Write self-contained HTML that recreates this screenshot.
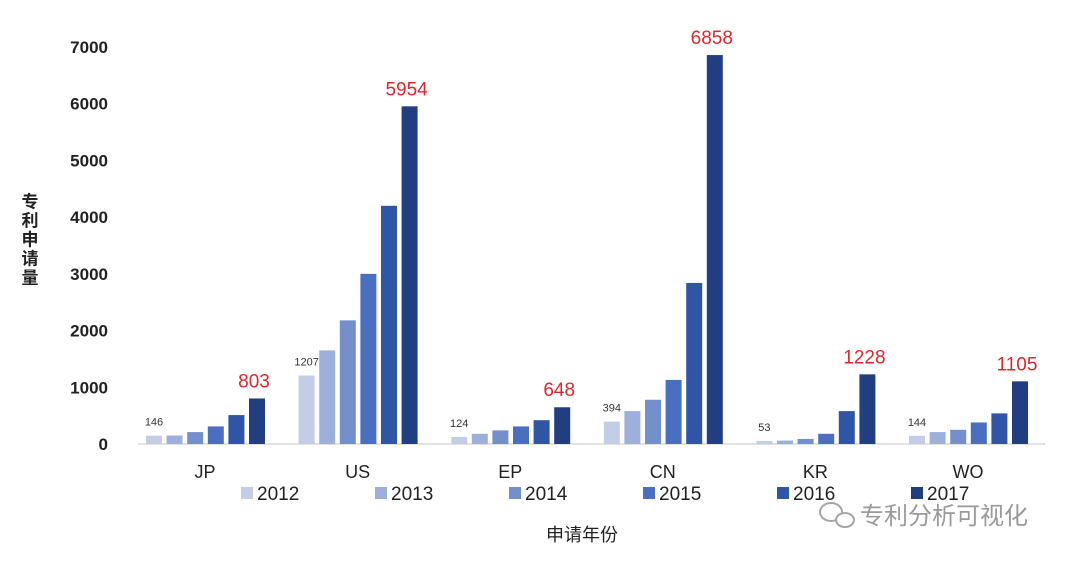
<!DOCTYPE html>
<html><head><meta charset="utf-8"><style>
body{margin:0;background:#fff;}
svg text{font-family:"Liberation Sans","Noto Sans CJK SC",sans-serif;}
</style></head><body>
<svg width="1080" height="564" viewBox="0 0 1080 564">
<g id="yaxis"></g>
<line x1="138" y1="444" x2="1045" y2="444" stroke="#d9d9d9" stroke-width="1.5"/>
<g id="bars"></g>
<g id="legend"></g>
<text x="28" y="240" font-size="17" font-weight="bold" fill="#222" text-anchor="middle" style="writing-mode:vertical-rl;letter-spacing:2px">专利申请量</text>
<text x="582" y="541" font-size="18" fill="#222" text-anchor="middle">申请年份</text>
<g opacity="0.75">
<ellipse cx="831" cy="512" rx="11" ry="9" fill="none" stroke="#888" stroke-width="2"/>
<ellipse cx="845" cy="520" rx="9" ry="7" fill="#fff" stroke="#888" stroke-width="2"/>
<text x="860" y="524" font-size="24" fill="#777">专利分析可视化</text>
</g>
<script>
const categories=["JP","US","EP","CN","KR","WO"];
const years=["2012","2013","2014","2015","2016","2017"];
const s2012=[146,1207,124,394,53,144];
const s2013=[150,1650,180,580,60,210];
const s2014=[210,2180,240,780,90,250];
const s2015=[310,3000,310,1130,180,380];
const s2016=[510,4200,420,2840,580,540];
const s2017=[803,5954,648,6858,1228,1105];
const yTicks=[0,1000,2000,3000,4000,5000,6000,7000];
const series=[s2012,s2013,s2014,s2015,s2016,s2017];
const colors=["#c3cde6","#9db0da","#7490cc","#4a6fc0","#2f56a6","#213f80"];
const NS="http://www.w3.org/2000/svg";
function y(v){return 444-v*(397/7000);}
function xc(i){return 205+i*152.6;}
function mk(tag,attrs,parent,txt){const e=document.createElementNS(NS,tag);for(const k in attrs)e.setAttribute(k,attrs[k]);if(txt!==undefined)e.textContent=txt;parent.appendChild(e);return e;}
const ya=document.getElementById('yaxis');
yTicks.forEach(t=>{const e=mk('text',{x:108,y:y(t)+6,'font-size':17,'font-weight':'bold','text-anchor':'end',fill:'#222'},ya,t);

});
const bg=document.getElementById('bars');
categories.forEach((c,i)=>{
 series.forEach((s,j)=>{
  const x=xc(i)-59+j*20.6;
  const r=mk('rect',{x:x,y:y(s[i]),width:16,height:444-y(s[i]),fill:colors[j]},bg);
  
  
 });
 const l1=mk('text',{x:xc(i)-51,y:y(s2012[i])-10,'font-size':11,fill:'#333','text-anchor':'middle'},bg,s2012[i]);
 
 
 const l2=mk('text',{x:xc(i)+49,y:y(s2017[i])-11,'font-size':19,fill:'#e0262c','text-anchor':'middle'},bg,s2017[i]);
 
 
 const cl=mk('text',{x:xc(i),y:478,'font-size':18,fill:'#222','text-anchor':'middle'},bg,c);
 
 
});
const lg=document.getElementById('legend');
years.forEach((yr,j)=>{
 const lx=241+j*134;
 const r=mk('rect',{x:lx,y:487,width:12,height:12,fill:colors[j]},lg);
 
 
 const t=mk('text',{x:lx+16,y:500,'font-size':19,fill:'#222'},lg,yr);
 
 
});
</script>
</svg>
</body></html>
